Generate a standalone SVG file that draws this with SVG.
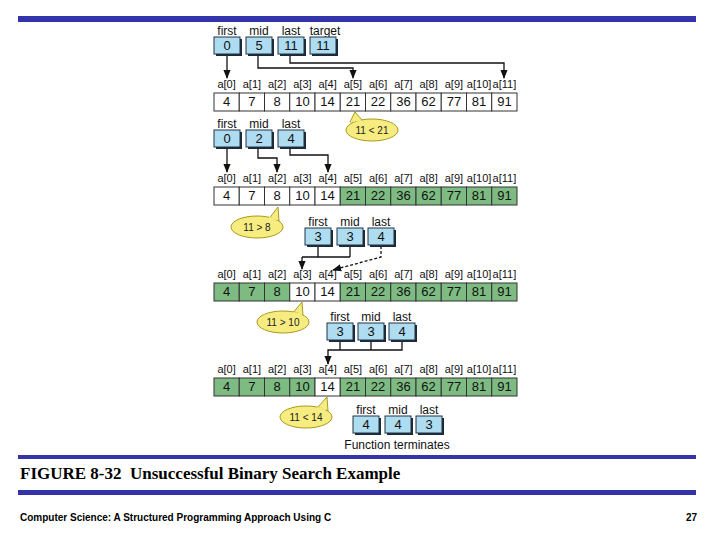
<svg xmlns="http://www.w3.org/2000/svg" width="720" height="540" viewBox="0 0 720 540">
<style>
.c{fill:#fff;stroke:#333;stroke-width:1}
.g{fill:#7dbb82;stroke:#333;stroke-width:1}
.v{font:13px "Liberation Sans",Arial,sans-serif;text-anchor:middle;fill:#111}
.l{font:11px "Liberation Sans",Arial,sans-serif;text-anchor:middle;fill:#111}
.b{fill:#aedcf0;stroke:#234;stroke-width:1}
.s{fill:#1a2a3a}
.w{fill:none;stroke:#111;stroke-width:1.3}
.bub{fill:#f7ec80;stroke:#a89a20;stroke-width:1}
.bt{font:10px "Liberation Sans",Arial,sans-serif;text-anchor:middle;fill:#222}
</style>
<defs>
<marker id="ah" viewBox="0 0 10 10" refX="9" refY="5" markerWidth="7" markerHeight="7" orient="auto"><path d="M0,1 L10,5 L0,9z" fill="#111"/></marker>
<g id="cellrow">
<text class="l" x="226.6" y="-5">a[0]</text><text class="l" x="251.9" y="-5">a[1]</text><text class="l" x="277.1" y="-5">a[2]</text><text class="l" x="302.4" y="-5">a[3]</text><text class="l" x="327.6" y="-5">a[4]</text><text class="l" x="352.9" y="-5">a[5]</text><text class="l" x="378.1" y="-5">a[6]</text><text class="l" x="403.4" y="-5">a[7]</text><text class="l" x="428.6" y="-5">a[8]</text><text class="l" x="453.9" y="-5">a[9]</text><text class="l" x="479.1" y="-5">a[10]</text><text class="l" x="504.4" y="-5">a[11]</text>
</g>
<g id="vals">
<text class="v" x="226.6" y="13">4</text><text class="v" x="251.9" y="13">7</text><text class="v" x="277.1" y="13">8</text><text class="v" x="302.4" y="13">10</text><text class="v" x="327.6" y="13">14</text><text class="v" x="352.9" y="13">21</text><text class="v" x="378.1" y="13">22</text><text class="v" x="403.4" y="13">36</text><text class="v" x="428.6" y="13">62</text><text class="v" x="453.9" y="13">77</text><text class="v" x="479.1" y="13">81</text><text class="v" x="504.4" y="13">91</text>
</g>
</defs>
<rect x="18" y="16" width="678" height="6" fill="#3333aa"/>
<rect x="18" y="455" width="678" height="4" fill="#3333aa"/>
<rect x="18" y="490" width="678" height="5" fill="#3333aa"/>
<text x="20" y="479" style="font:bold 17px 'Liberation Serif','Times New Roman',serif" fill="#000">FIGURE 8-32&#160; Unsuccessful Binary Search Example</text>
<text x="20" y="521" style="font:bold 10px 'Liberation Sans',Arial,sans-serif" fill="#000">Computer Science: A Structured Programming Approach Using C</text>
<text x="697" y="521" text-anchor="end" style="font:bold 10px 'Liberation Sans',Arial,sans-serif" fill="#000">27</text>

<g id="arrays">
<g id="row1" transform="translate(0,93)">
<use href="#cellrow"/>
<g class="c"><rect x="214" y="0" width="25.25" height="18"/><rect x="239.25" y="0" width="25.25" height="18"/><rect x="264.5" y="0" width="25.25" height="18"/><rect x="289.75" y="0" width="25.25" height="18"/><rect x="315" y="0" width="25.25" height="18"/><rect x="340.25" y="0" width="25.25" height="18"/><rect x="365.5" y="0" width="25.25" height="18"/><rect x="390.75" y="0" width="25.25" height="18"/><rect x="416" y="0" width="25.25" height="18"/><rect x="441.25" y="0" width="25.25" height="18"/><rect x="466.5" y="0" width="25.25" height="18"/><rect x="491.75" y="0" width="25.25" height="18"/></g>
<use href="#vals"/>
</g>
<g id="row2" transform="translate(0,187)">
<use href="#cellrow"/>
<rect class="c" x="214" y="0" width="25.25" height="18"/><rect class="c" x="239.25" y="0" width="25.25" height="18"/><rect class="c" x="264.5" y="0" width="25.25" height="18"/><rect class="c" x="289.75" y="0" width="25.25" height="18"/><rect class="c" x="315" y="0" width="25.25" height="18"/><rect class="g" x="340.25" y="0" width="25.25" height="18"/><rect class="g" x="365.5" y="0" width="25.25" height="18"/><rect class="g" x="390.75" y="0" width="25.25" height="18"/><rect class="g" x="416" y="0" width="25.25" height="18"/><rect class="g" x="441.25" y="0" width="25.25" height="18"/><rect class="g" x="466.5" y="0" width="25.25" height="18"/><rect class="g" x="491.75" y="0" width="25.25" height="18"/>
<use href="#vals"/>
</g>
<g id="row3" transform="translate(0,283)">
<use href="#cellrow"/>
<rect class="g" x="214" y="0" width="25.25" height="18"/><rect class="g" x="239.25" y="0" width="25.25" height="18"/><rect class="g" x="264.5" y="0" width="25.25" height="18"/><rect class="c" x="289.75" y="0" width="25.25" height="18"/><rect class="c" x="315" y="0" width="25.25" height="18"/><rect class="g" x="340.25" y="0" width="25.25" height="18"/><rect class="g" x="365.5" y="0" width="25.25" height="18"/><rect class="g" x="390.75" y="0" width="25.25" height="18"/><rect class="g" x="416" y="0" width="25.25" height="18"/><rect class="g" x="441.25" y="0" width="25.25" height="18"/><rect class="g" x="466.5" y="0" width="25.25" height="18"/><rect class="g" x="491.75" y="0" width="25.25" height="18"/>
<use href="#vals"/>
</g>
<g id="row4" transform="translate(0,378)">
<use href="#cellrow"/>
<rect class="g" x="214" y="0" width="25.25" height="18"/><rect class="g" x="239.25" y="0" width="25.25" height="18"/><rect class="g" x="264.5" y="0" width="25.25" height="18"/><rect class="g" x="289.75" y="0" width="25.25" height="18"/><rect class="c" x="315" y="0" width="25.25" height="18"/><rect class="g" x="340.25" y="0" width="25.25" height="18"/><rect class="g" x="365.5" y="0" width="25.25" height="18"/><rect class="g" x="390.75" y="0" width="25.25" height="18"/><rect class="g" x="416" y="0" width="25.25" height="18"/><rect class="g" x="441.25" y="0" width="25.25" height="18"/><rect class="g" x="466.5" y="0" width="25.25" height="18"/><rect class="g" x="491.75" y="0" width="25.25" height="18"/>
<use href="#vals"/>
</g>
</g>

<g id="connectors" class="w">
<path d="M227,55 V78" marker-end="url(#ah)"/>
<path d="M258,55 V68 H353 V78" marker-end="url(#ah)"/>
<path d="M290,55 V63 H504 V78" marker-end="url(#ah)"/>
<path d="M227,148 V172" marker-end="url(#ah)"/>
<path d="M258,148 V158 H277 V172" marker-end="url(#ah)"/>
<path d="M290,148 V155 H328 V172" marker-end="url(#ah)"/>
<path d="M318,246 V257 H350 M350,246 V257 M302,257 H318 M302,257 V269" marker-end="url(#ah)"/>
<path d="M381,246 V257 L333,270" stroke-dasharray="3,2" marker-end="url(#ah)"/>
<path d="M340,341 V350 M371,341 V350 M402,341 V350 H328 V364" marker-end="url(#ah)"/>
</g>

<g id="bubbles">
<g id="b1"><path class="bub" d="M350,122 L355,112 L362,120 Z"/><ellipse class="bub" cx="372" cy="130" rx="26" ry="11"/><path d="M351,121 L361,120" stroke="#f7ec80" stroke-width="2"/><text class="bt" x="372" y="134">11 &lt; 21</text></g>
<g id="b2"><path class="bub" d="M268,220 L278,207 L279,221 Z"/><ellipse class="bub" cx="257" cy="227" rx="26" ry="11"/><path d="M269,218 L278,219" stroke="#f7ec80" stroke-width="2"/><text class="bt" x="257" y="231">11 &gt; 8</text></g>
<g id="b3"><path class="bub" d="M292,314 L302,302 L303,316 Z"/><ellipse class="bub" cx="283" cy="322" rx="26" ry="11"/><path d="M293,313 L302,314" stroke="#f7ec80" stroke-width="2"/><text class="bt" x="283" y="326">11 &gt; 10</text></g>
<g id="b4"><path class="bub" d="M316,409 L327,397 L328,411 Z"/><ellipse class="bub" cx="306" cy="417" rx="26" ry="11"/><path d="M317,408 L326,409" stroke="#f7ec80" stroke-width="2"/><text class="bt" x="306" y="421">11 &lt; 14</text></g>
</g>

<g id="boxes">
<g id="A">
<text class="l" x="227" y="35" style="font-size:12px">first</text><text class="l" x="259" y="35" style="font-size:12px">mid</text><text class="l" x="291" y="35" style="font-size:12px">last</text><text class="l" x="325" y="35" style="font-size:12px">target</text>
<rect class="s" x="216" y="39" width="26" height="17"/><rect class="b" x="214" y="37" width="26" height="17"/><text class="v" x="227" y="50">0</text>
<rect class="s" x="248" y="39" width="26" height="17"/><rect class="b" x="246" y="37" width="26" height="17"/><text class="v" x="259" y="50">5</text>
<rect class="s" x="280" y="39" width="26" height="17"/><rect class="b" x="278" y="37" width="26" height="17"/><text class="v" x="291" y="50">11</text>
<rect class="s" x="312" y="39" width="26" height="17"/><rect class="b" x="310" y="37" width="26" height="17"/><text class="v" x="323" y="50">11</text>
</g>
<g id="B">
<text class="l" x="227" y="128" style="font-size:12px">first</text><text class="l" x="259" y="128" style="font-size:12px">mid</text><text class="l" x="291" y="128" style="font-size:12px">last</text>
<rect class="s" x="216" y="132" width="26" height="17"/><rect class="b" x="214" y="130" width="26" height="17"/><text class="v" x="227" y="143">0</text>
<rect class="s" x="248" y="132" width="26" height="17"/><rect class="b" x="246" y="130" width="26" height="17"/><text class="v" x="259" y="143">2</text>
<rect class="s" x="280" y="132" width="26" height="17"/><rect class="b" x="278" y="130" width="26" height="17"/><text class="v" x="291" y="143">4</text>
</g>
<g id="C">
<text class="l" x="318" y="226" style="font-size:12px">first</text><text class="l" x="350" y="226" style="font-size:12px">mid</text><text class="l" x="381" y="226" style="font-size:12px">last</text>
<rect class="s" x="307" y="230" width="26" height="17"/><rect class="b" x="305" y="228" width="26" height="17"/><text class="v" x="318" y="241">3</text>
<rect class="s" x="339" y="230" width="26" height="17"/><rect class="b" x="337" y="228" width="26" height="17"/><text class="v" x="350" y="241">3</text>
<rect class="s" x="370" y="230" width="26" height="17"/><rect class="b" x="368" y="228" width="26" height="17"/><text class="v" x="381" y="241">4</text>
</g>
<g id="D">
<text class="l" x="340" y="321" style="font-size:12px">first</text><text class="l" x="371" y="321" style="font-size:12px">mid</text><text class="l" x="402" y="321" style="font-size:12px">last</text>
<rect class="s" x="329" y="325" width="26" height="17"/><rect class="b" x="327" y="323" width="26" height="17"/><text class="v" x="340" y="336">3</text>
<rect class="s" x="360" y="325" width="26" height="17"/><rect class="b" x="358" y="323" width="26" height="17"/><text class="v" x="371" y="336">3</text>
<rect class="s" x="391" y="325" width="26" height="17"/><rect class="b" x="389" y="323" width="26" height="17"/><text class="v" x="402" y="336">4</text>
</g>
<g id="E">
<text class="l" x="366" y="414" style="font-size:12px">first</text><text class="l" x="398" y="414" style="font-size:12px">mid</text><text class="l" x="429" y="414" style="font-size:12px">last</text>
<rect class="s" x="355" y="418" width="26" height="17"/><rect class="b" x="353" y="416" width="26" height="17"/><text class="v" x="366" y="429">4</text>
<rect class="s" x="387" y="418" width="26" height="17"/><rect class="b" x="385" y="416" width="26" height="17"/><text class="v" x="398" y="429">4</text>
<rect class="s" x="418" y="418" width="26" height="17"/><rect class="b" x="416" y="416" width="26" height="17"/><text class="v" x="429" y="429">3</text>
<text class="l" x="397" y="449" style="font-size:12px">Function terminates</text>
</g>
</g>
</svg>
